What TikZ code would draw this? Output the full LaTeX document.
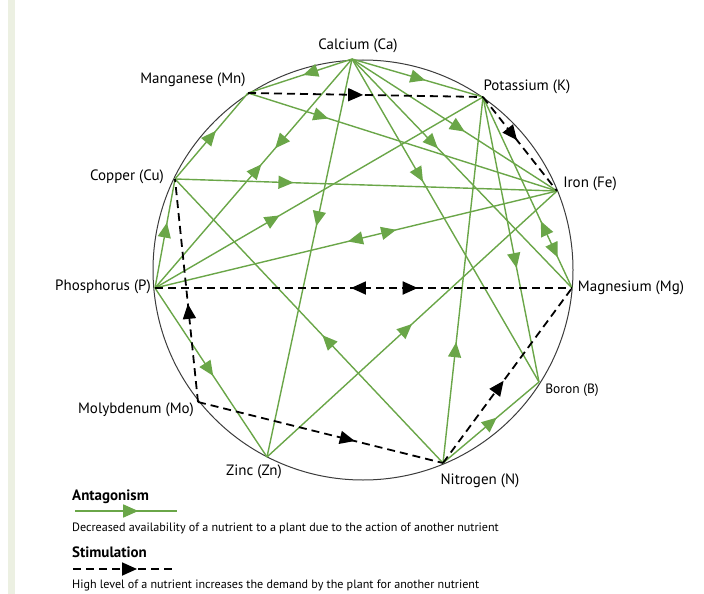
\documentclass[tikz,border=0pt]{standalone}
\usepackage{fontspec}
\setmainfont{PT Sans}
\usetikzlibrary{arrows.meta,decorations.markings}
\definecolor{antag}{RGB}{106,166,72}
\definecolor{strip}{RGB}{236,240,226}
\definecolor{ring}{RGB}{60,60,60}
\tikzset{
  ant/.style={draw=antag, line width=1.4pt},
  stim/.style={draw=black, line width=1.8pt, dash pattern=on 8pt off 5pt},
  fwd/.style={postaction={decorate, decoration={markings,
      mark=at position #1 with {\arrow{Triangle[length=15pt,width=13pt]}}}}},
  bwd/.style={postaction={decorate, decoration={markings,
      mark=at position #1 with {\arrowreversed{Triangle[length=15pt,width=13pt]}}}}},
  lbl/.style={font=\fontsize{15}{17}\selectfont, inner sep=0pt},
  ttl/.style={font=\fontsize{15}{17}\selectfont\bfseries, inner sep=0pt, anchor=west},
  txt/.style={font=\fontsize{12.1}{14}\selectfont, inner sep=0pt, anchor=west},
}
\begin{document}
\begin{tikzpicture}[x=1pt,y=-1pt]
\useasboundingbox (0,0) rectangle (704,594);
\fill[strip] (8,0) rectangle (15,594);
% circle
\draw[ring, line width=1pt] (363,270) circle[radius=210];
% element points
\coordinate (Ca) at (352,59);
\coordinate (K)  at (483,97);
\coordinate (Fe) at (557,191);
\coordinate (Mg) at (572,288);
\coordinate (B)  at (539,382);
\coordinate (N)  at (443,463);
\coordinate (Zn) at (267,457);
\coordinate (Mo) at (198,402);
\coordinate (P)  at (155,288);
\coordinate (Cu) at (175,179);
\coordinate (Mn) at (248,93);
% labels
\node[lbl] (lCa) at (358,46) {Calcium (Ca)};
\node[lbl] (lMn) at (193,80) {Manganese (Mn)};
\node[lbl] (lK)  at (527,87) {Potassium (K)};
\node[lbl] (lCu) at (127,177) {Copper (Cu)};
\node[lbl] (lFe) at (590,184) {Iron (Fe)};
\node[lbl] (lP)  at (103,287) {Phosphorus (P)};
\node[lbl] (lMg) at (631,288) {Magnesium (Mg)};
\node[lbl, font=\fontsize{13.5}{15}\selectfont] (lB) at (572,390) {Boron (B)};
\node[lbl] (lMo) at (136,410) {Molybdenum (Mo)};
\node[lbl] (lZn) at (254,472) {Zinc (Zn)};
\node[lbl] (lN)  at (480,481) {Nitrogen (N)};
% antagonism
\draw[ant, fwd=0.47] (Ca) -- (Mn);
\draw[ant, fwd=0.56] (Ca) -- (K);
\draw[ant, fwd=0.55] (Ca) -- (Fe);
\draw[ant, fwd=0.39] (Ca) -- (Mg);
\draw[ant, fwd=0.38] (Ca) -- (B);
\draw[ant, fwd=0.42] (Ca) -- (Zn);
\draw[ant, fwd=0.39, bwd=0.46] (Ca) -- (P);
\draw[ant, fwd=0.56] (Cu) -- (Mn);
\draw[ant, fwd=0.26] (Mn) -- (Fe);
\draw[ant, fwd=0.31] (Cu) -- (Fe);
\draw[ant, fwd=0.60] (P) -- (Cu);
\draw[ant, fwd=0.38] (P) -- (K);
\draw[ant, bwd=0.48, fwd=0.60] (P) -- (Fe);
\draw[ant, fwd=0.45] (N) -- (Cu);
\draw[ant, fwd=0.50] (Zn) -- (Fe);
\draw[ant, fwd=0.33] (N) -- (K);
\draw[ant, fwd=0.60] (K) -- (B);
\draw[ant, bwd=0.65, fwd=0.84] (K) -- (Mg);
\draw[ant, fwd=0.56] (N) -- (B);
\draw[ant, fwd=0.52] (P) -- (Zn);
% stimulation
\draw[stim, fwd=0.49] (Mn) -- (K);
\draw[stim, fwd=0.46] (K) -- (Fe);
\draw[stim, bwd=0.47, fwd=0.63] (P) -- (Mg);
\draw[stim, fwd=0.44] (Mo) -- (Cu);
\draw[stim, fwd=0.64] (Mo) -- (N);
\draw[stim, fwd=0.47] (N) -- (Mg);
% legend
\node[ttl] (tA) at (72,497) {Antagonism};
\coordinate (a1) at (75,511);
\coordinate (a2) at (177,511);
\draw[ant, fwd=0.62] (a1) -- (a2);
\node[txt] (dA) at (72,528) {Decreased availability of a nutrient to a plant due to the action of another nutrient};
\node[ttl] (tS) at (72,552) {Stimulation};
\coordinate (s1) at (73,569);
\coordinate (s2) at (173,569);
\draw[stim, fwd=0.64] (s1) -- (s2);
\node[txt] (dS) at (72,585) {High level of a nutrient increases the demand by the plant for another nutrient};
\end{tikzpicture}
\end{document}
